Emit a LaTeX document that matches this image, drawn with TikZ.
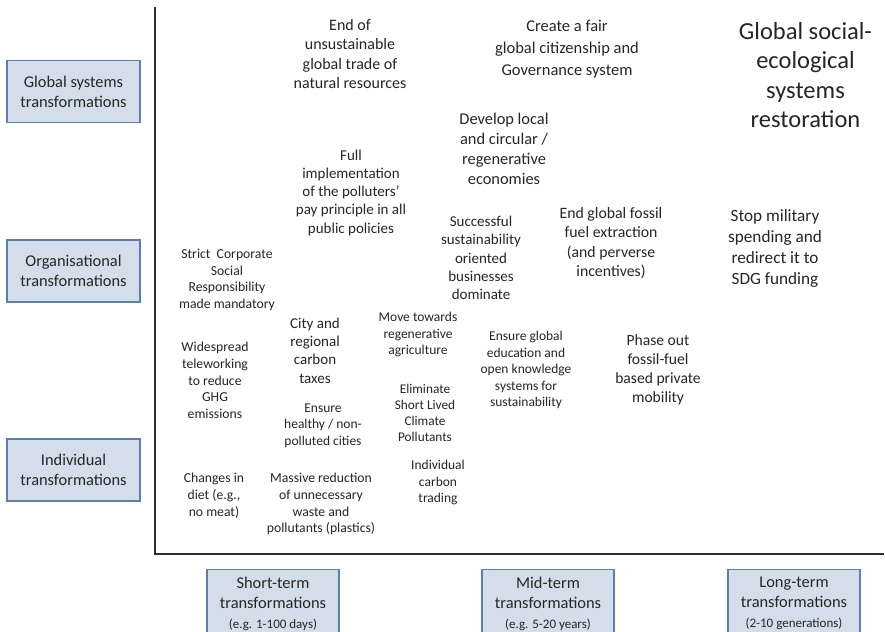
\documentclass[tikz,border=0pt]{standalone}
\usepackage{fontspec}
\setmainfont{Carlito}
\definecolor{ink}{HTML}{262626}
\definecolor{boxfill}{HTML}{D3DEEA}
\definecolor{boxline}{HTML}{5B7FA8}
\definecolor{axisgray}{HTML}{2E2E2E}

\begin{document}
\begin{tikzpicture}[x=1pt,y=-1pt,
  fs/.style 2 args={font=\fontsize{#1}{#2}\selectfont},
  lbl/.style={align=center,inner sep=0pt,text=ink},
  catbox/.style={draw=boxline,fill=boxfill,line width=1.1pt,align=center,
    inner sep=0pt,text=ink,minimum width=133pt,minimum height=62pt,fs={16.4}{20}},
  timebox/.style={catbox,anchor=north,minimum width=132pt,minimum height=68pt},
  axisline/.style={draw=axisgray,line width=2.2pt,line join=miter}]

\useasboundingbox (0,0) rectangle (885,631);
\fill[white] (0,0) rectangle (885,631);
\clip (0,0) rectangle (885,631);

% axes
\coordinate (ytop) at (155,7);
\coordinate (origin) at (155,554);
\coordinate (xend) at (884,554);
\draw[axisline] (ytop) -- (origin) -- (xend);

% scale categories (vertical)
\node[catbox] (global) at (73.5,91.5) {Global systems\\transformations};
\node[catbox] (organis) at (73.5,271) {Organisational\\transformations};
\node[catbox] (indiv) at (73.5,470) {Individual\\transformations};

% time horizons (horizontal)
\node[timebox] (short) at (273,569) {Short-term\\transformations\\{\fontsize{13}{16}\selectfont(e.g. 1-100 days)}};
\node[timebox] (mid) at (548,569) {Mid-term\\transformations\\{\fontsize{13}{16}\selectfont(e.g. 5-20 years)}};
\node[timebox] (long) at (794,569) {Long-term\\transformations\\{\fontsize{13}{16}\selectfont(2-10 generations)}};

% transformations
\node[lbl,fs={16}{19.5}] (endtrade) at (350,54) {End of\\unsustainable\\global trade of\\natural resources};
\node[lbl,fs={16.5}{22}] (citizen) at (567,49) {Create a fair\\global citizenship and\\Governance system};
\node[lbl,fs={24.5}{29.5}] (restore) at (805.5,75) {Global social-\\ecological\\systems\\restoration};
\node[lbl,fs={16.4}{20}] (circular) at (504,149) {Develop local\\and circular /\\regenerative\\economies};
\node[lbl,fs={15}{18.25}] (polluter) at (351,192.5) {Full\\implementation\\of the polluters'\\pay principle in all\\public policies};
\node[lbl,fs={15}{18.25}] (business) at (481,258) {Successful\\sustainability\\oriented\\businesses\\dominate};
\node[lbl,fs={15.8}{19.5}] (fossil) at (611,243) {End global fossil\\fuel extraction\\(and perverse\\incentives)};
\node[lbl,fs={17.2}{21}] (military) at (775,248.5) {Stop military\\spending and\\redirect it to\\SDG funding};
\node[lbl,fs={13.7}{16.7}] (csr) at (227,280) {Strict\ \ Corporate\\Social\\Responsibility\\made mandatory};
\node[lbl,fs={15}{18.3}] (citytax) at (315,350.5) {City and\\regional\\carbon\\taxes};
\node[lbl,fs={13.5}{16.5}] (agri) at (418,334.5) {Move towards\\regenerative\\agriculture};
\node[lbl,fs={13.5}{16.5}] (educ) at (526,370) {Ensure global\\education and\\open knowledge\\systems for\\sustainability};
\node[lbl,fs={15.6}{19}] (mobility) at (658,369.5) {Phase out\\fossil-fuel\\based private\\mobility};
\node[lbl,fs={13.7}{16.75}] (telework) at (215,380.5) {Widespread\\teleworking\\to reduce\\GHG\\emissions};
\node[lbl,fs={13.3}{16.1}] (slcp) at (425,413) {Eliminate\\Short Lived\\Climate\\Pollutants};
\node[lbl,fs={13.5}{16.5}] (cities) at (323,425.5) {Ensure\\healthy / non-\\polluted cities};
\node[lbl,fs={13.5}{16.5}] (trading) at (438,482.5) {Individual\\carbon\\trading};
\node[lbl,fs={13.7}{17}] (diet) at (214,496) {Changes in\\diet (e.g.,\\no meat)};
\node[lbl,fs={13.7}{16.7}] (waste) at (321,504) {Massive reduction\\of unnecessary\\waste and\\pollutants (plastics)};
\end{tikzpicture}
\end{document}
